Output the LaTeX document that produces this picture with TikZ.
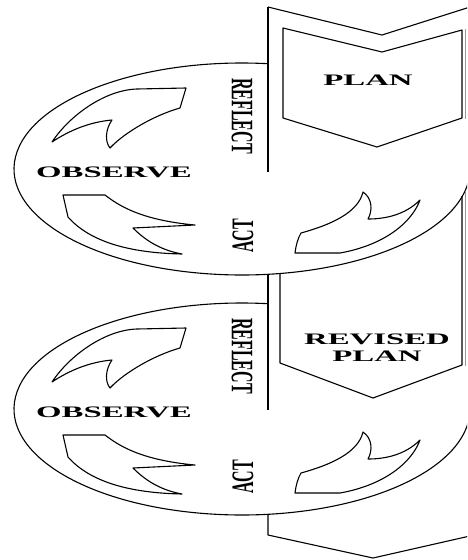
\documentclass[tikz,border=0pt]{standalone}
\usepackage{fontspec}
\setmainfont{Liberation Serif}
\usepackage{graphicx}
\begin{document}
\begin{tikzpicture}[x=1pt,y=-1pt,line join=round,
  edge/.style={draw=black,line width=1.1pt},
  shadeline/.style={draw=black!40,line width=1.6pt},
  lbl/.style={inner sep=0pt,font=\fontsize{16}{17}\selectfont\bfseries},
  arrowset/.pic={
    % upper-left arrow
    \draw[edge] (186,88) -- (137,89) .. controls (105,90) and (70,115) .. (52,142)
      .. controls (70,130) and (90,122) .. (112,120)
      .. controls (105,130) and (105,142) .. (110,148)
      .. controls (125,132) and (155,115) .. (180,108) -- cycle;
    % lower-left arrow
    \draw[edge] (63,195) -- (105,195) .. controls (118,205) and (140,220) .. (195,225)
      -- (133,228)
      .. controls (145,240) and (160,250) .. (182,254)
      .. controls (130,253) and (90,242) .. (68,217) -- cycle;
    % lower-right arrow
    \draw[edge] (295,253) .. controls (296,245) and (298,238) .. (301,233)
      .. controls (330,225) and (358,213) .. (363,192)
      .. controls (372,198) and (373,210) .. (368,219)
      .. controls (385,219) and (405,215) .. (420,200)
      .. controls (412,222) and (385,245) .. (340,253) -- cycle;
  }]
\useasboundingbox (0,0) rectangle (467,560);
\clip (0,0) rectangle (467,560);

% ---- top strip and PLAN box
\draw[edge] (268,7) -- (382,35) -- (470,7);
\draw[edge] (268,7) -- (268,172);
\draw[edge] (283,28) -- (382,52) -- (462,30) -- (462,118) -- (377,147) -- (283,118) -- cycle;
\draw[shadeline] (465.5,29) -- (465.5,119);

% ---- loop 1
\draw[edge] (268,63.7) arc[start angle=-83.45,end angle=-360,x radius=228,y radius=106];
\pic (arrows1) at (0,0) {arrowset};

% ---- between loops and REVISED PLAN box
\draw[edge] (268,274.3) -- (268,410);
\draw[edge] (280,273.5) -- (280,363) -- (373,398) -- (462,365) -- (462,196);
\draw[shadeline] (465.5,192) -- (465.5,366);

% ---- loop 2
\draw[edge] (268,303.7) arc[start angle=-83.45,end angle=-360,x radius=228,y radius=106];
\pic (arrows2) at (0,240) {arrowset};

% ---- bottom
\draw[edge] (268,514.3) -- (268,535) -- (373,558) -- (470,536);

% ---- labels
\node[lbl] (plan1) at (368,80) {\scalebox{2.05}[1]{PLAN}};
\node[lbl] (plan2) at (377,350) {\scalebox{2.05}[1]{\begin{tabular}{@{}c@{}}REVISED\\PLAN\end{tabular}}};
\node[lbl] (obs1) at (114,172.5) {\scalebox{2.05}[1]{OBSERVE}};
\node[lbl] (obs2) at (114,412) {\scalebox{2.05}[1]{OBSERVE}};
\node[lbl] (ref1) at (242,116) {\scalebox{1.95}[1]{\rotatebox{-90}{REFLECT}}};
\node[lbl] (ref2) at (242,356) {\scalebox{1.95}[1]{\rotatebox{-90}{REFLECT}}};
\node[lbl] (act1) at (243,236) {\scalebox{1.95}[1]{\rotatebox{90}{ACT}}};
\node[lbl] (act2) at (243,477) {\scalebox{1.95}[1]{\rotatebox{90}{ACT}}};
\end{tikzpicture}
\end{document}
